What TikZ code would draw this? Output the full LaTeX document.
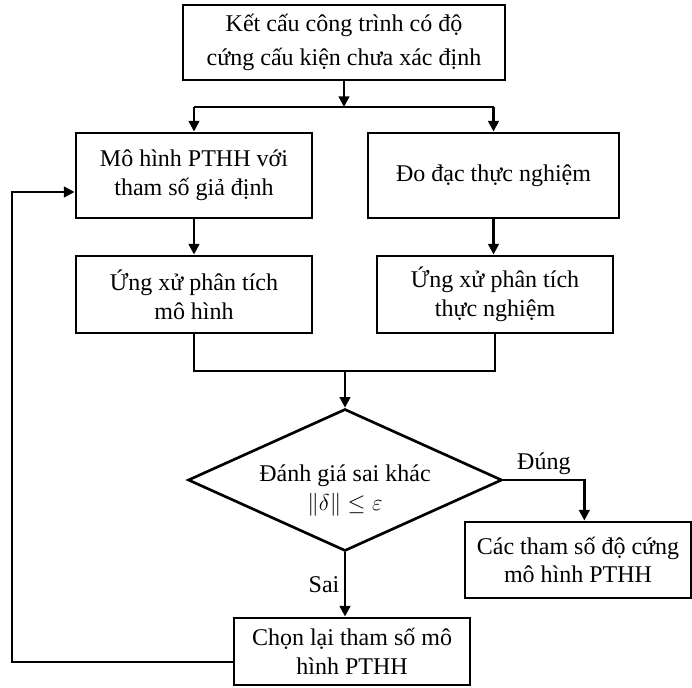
\documentclass[tikz,border=0pt]{standalone}
\usepackage{fontspec}
\setmainfont{Liberation Serif}
\usetikzlibrary{shapes.geometric, arrows.meta, positioning, calc}

\begin{document}
\begin{tikzpicture}[
        x=0.75pt, y=-0.75pt,
        >={Triangle[length=8pt, width=8pt]},
        line width=1.8pt,
        font=\fontsize{18}{21.6}\selectfont,
        box/.style={rectangle, draw, line width=2.2pt, align=center, inner sep=2pt},
        decision/.style={diamond, draw, line width=2pt, align=center, inner sep=-10pt, aspect=2.2}
    ]
    \useasboundingbox (0,0) rectangle (692,688);

    % --- Input structure ---
    \node (struct) [box, minimum width=241.5pt, minimum height=56.25pt, font=\fontsize{18}{26}\selectfont] at (344,42.5) {Kết cấu công trình có độ\\cứng cấu kiện chưa xác định};

    % --- Model branch (left) and measurement branch (right) ---
    \node (fem) [box, minimum width=177pt, minimum height=63.75pt] at (194,175.5) {Mô hình PTHH với\\tham số giả định};
    \node (meas) [box, minimum width=188.25pt, minimum height=63.75pt] at (493.5,175.5) {Đo đạc thực nghiệm};
    \node (femresp) [box, minimum width=177pt, minimum height=57.75pt] at (194,294.5) {Ứng xử phân tích\\mô hình};
    \node (measresp) [box, minimum width=177pt, minimum height=57.75pt] at (495,294.5) {Ứng xử phân tích\\thực nghiệm};

    % --- Check and outcomes ---
    \node (check) [decision, minimum width=235.5pt, minimum height=106.5pt] at (345,480) {\rule{0pt}{28pt}Đánh giá sai khác\\$\|\delta\| \leq \varepsilon$};
    \node (result) [box, minimum width=169.5pt, minimum height=57pt] at (578,560) {Các tham số độ cứng\\mô hình PTHH};
    \node (update) [box, minimum width=177pt, minimum height=50.25pt] at (352,651.5) {Chọn lại tham số mô\\hình PTHH};

    % --- Junctions ---
    \coordinate (split) at (344,107);
    \coordinate (merge) at (345,371);
    \coordinate (back) at (12,662);

    % --- Forward paths ---
    \draw[->] (struct.south) -- (split);
    \draw (fem.north |- split) -- (meas.north |- split);
    \draw[->] (fem.north |- split) -- (fem.north);
    \draw[->] (meas.north |- split) -- (meas.north);
    \draw[->] (fem) -- (femresp);
    \draw[->] (meas.south) -- (meas.south |- measresp.north);
    \draw (femresp.south) |- (merge) -| (measresp.south);
    \draw[->] (merge) -- (check.north);

    % --- Decision paths ---
    \draw[->] (check.east) -- node[above] {Đúng} ++(81,0) coordinate (yes) -- (yes |- result.north);
    \draw[->] (check.south) -- node[left] {Sai} (check.south |- update.north);

    % --- Feedback loop ---
    \draw[->] (update.west |- back) -- (back) |- ($(fem.west)+(0,16.5)$);

\end{tikzpicture}
\end{document}
